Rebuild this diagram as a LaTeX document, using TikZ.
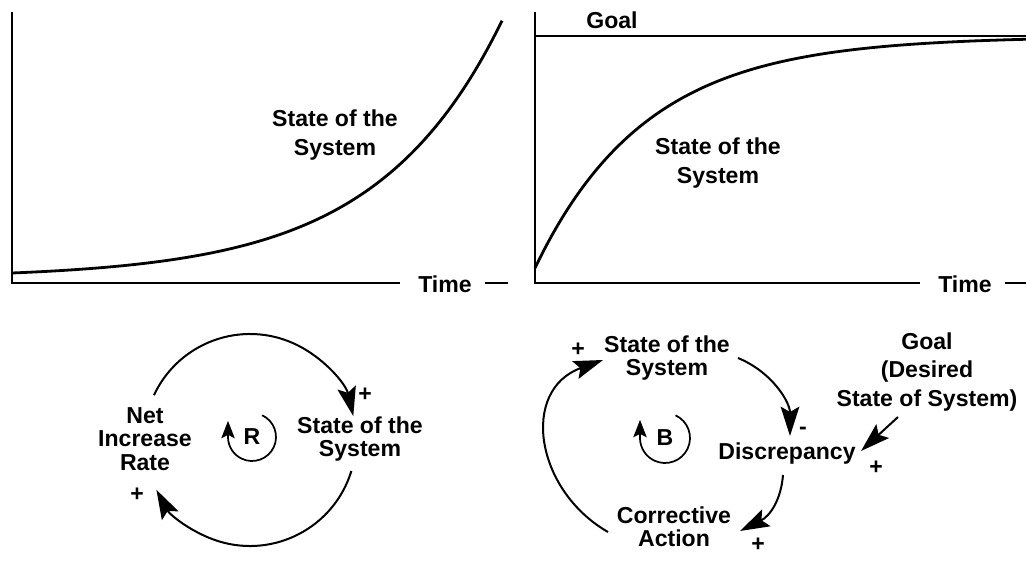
\documentclass[tikz,border=0pt]{standalone}
\usepackage{fontspec}
\setmainfont{Liberation Sans}
\usetikzlibrary{arrows.meta}
\begin{document}
\begin{tikzpicture}[x=0.75pt,y=-0.75pt,
  lbl/.style={font=\fontsize{17.3pt}{17.5pt}\selectfont\bfseries, align=center, inner sep=0pt},
  lblwide/.style={font=\fontsize{17.3pt}{21.8pt}\selectfont\bfseries, align=center, inner sep=0pt},
  lblgoal/.style={font=\fontsize{17.3pt}{21.4pt}\selectfont\bfseries, align=center, inner sep=0pt},
  sgn/.style={font=\fontsize{17.3pt}{17.5pt}\selectfont\bfseries, inner sep=0pt},
  axis/.style={line width=1.2pt},
  curve/.style={line width=2.1pt},
  link/.style={line width=1.5pt, -{Stealth[length=22pt,width=14pt,inset=4pt]}},
  looparr/.style={line width=1.3pt, -{Stealth[length=13pt,width=10pt,inset=2.5pt]}}]
\fill[white] (0,0) rectangle (1026,568);
\useasboundingbox (0,0) rectangle (1026,568);

% ---------- left chart ----------
\coordinate (LT) at (12,12);
\coordinate (LO) at (12,283);
\coordinate (LX) at (400,283);
\draw[axis] (LT) -- (LO) -- (LX);
\node[lbl] (Ltime) at (445,284) {Time};
\coordinate (Ld1) at (485,283);
\coordinate (Ld2) at (508,283);
\draw[axis] (Ld1) -- (Ld2);
\draw[curve] plot[domain=12:502, samples=120, smooth] (\x, {273 - 5.12*(exp(0.008*(\x-12))-1)});
\node[lblwide] (Lstate) at (335,135) {State of the\\System};

% ---------- right chart ----------
\coordinate (RT) at (535,12);
\coordinate (RO) at (535,283);
\coordinate (RX) at (920,283);
\draw[axis] (RT) -- (RO) -- (RX);
\coordinate (G1) at (535,36);
\coordinate (G2) at (1026,36);
\draw[line width=1pt] (G1) -- (G2);
\node[lbl] (Rgoal) at (612,20) {Goal};
\node[lbl] (Rtime) at (965,284) {Time};
\coordinate (Rd1) at (1005,283);
\coordinate (Rd2) at (1026,283);
\draw[axis] (Rd1) -- (Rd2);
\draw[curve] plot[domain=535:1026, samples=120, smooth] (\x, {36.5 + 231.5*exp(-0.009*(\x-535))});
\node[lblwide] (Rstate) at (718,163) {State of the\\System};

% ---------- reinforcing loop ----------
\node[lbl] (net) at (145,439) {Net\\Increase\\Rate};
\node[lbl] (st1) at (360,439) {State of the\\System};
\node[sgn] (p1) at (365,395) {+};
\node[sgn] (p2) at (137,495) {+};
\coordinate (Ra) at ({250+106*cos(-155)},{440+106*sin(-155)});
\draw[link] (Ra) arc[start angle=-155, end angle=-13, radius=106];
\coordinate (Rb) at ({250+106*cos(17)},{440+106*sin(17)});
\draw[link] (Rb) arc[start angle=17, end angle=152, radius=106];
\node[lbl] (R) at (252,437) {R};
\coordinate (Rl) at ({252+24*cos(-65)},{437+24*sin(-65)});
\draw[looparr] (Rl) arc[start angle=-65, end angle=178, radius=24] -- ++(0,-17);

% ---------- balancing loop ----------
\node[lbl] (st2) at (667,358) {State of the\\System};
\node[sgn] (p3) at (578,350) {+};
\node[lbl] (disc) at (787,454) {Discrepancy};
\node[sgn] (m1) at (803,431) {-};
\node[lbl] (corr) at (674,527) {Corrective\\Action};
\node[sgn] (p4) at (758,545) {+};
\node[lblgoal] (goal) at (927,372) {Goal\\(Desired\\State of System)};
\node[sgn] (p5) at (876,468) {+};

\coordinate (s2out) at (738,358);
\coordinate (discin) at (790,436);
\draw[link] (s2out) .. controls (772,372) and (790,402) .. (discin);
\coordinate (discout) at (783,475);
\coordinate (corrin) at (740,531);
\draw[link] (discout) .. controls (781,500) and (770,516) .. (corrin);
\coordinate (corrout) at (608,532);
\coordinate (s2in) at (603,360);
\draw[link] (corrout) .. controls (535,490) and (520,390) .. (s2in);
\coordinate (goalout) at (898,417);
\coordinate (discin2) at (861,451);
\draw[link] (goalout) -- (discin2);

\node[lbl] (B) at (665,438) {B};
\coordinate (Bl) at ({665+25*cos(-65)},{438+25*sin(-65)});
\draw[looparr] (Bl) arc[start angle=-65, end angle=178, radius=25] -- ++(0,-19);
\end{tikzpicture}
\end{document}
